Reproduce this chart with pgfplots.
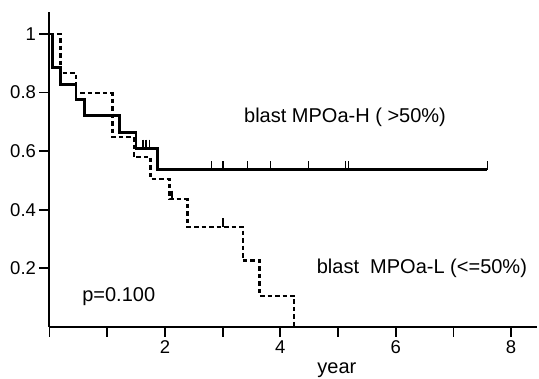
\documentclass[border=0pt]{standalone}
\usepackage{pgfplots}
\pgfplotsset{compat=1.18}
\usepackage{fontspec}
\setmainfont{Liberation Sans}
\begin{document}
\begin{tikzpicture}
\useasboundingbox (-49.5pt,-52pt) rectangle (489.5pt,327pt);
\begin{axis}[
  at={(0,0)}, anchor=south west,
  scale only axis, width=487.6pt, height=315pt,
  xmin=0, xmax=8.45, ymin=0, ymax=1.075,
  axis x line=bottom, axis y line=left,
  axis line style={-, line width=2pt},
  xtick={0,1,2,3,4,5,6,7,8}, xticklabels={,,2,,4,,6,,8},
  ytick={0.2,0.4,0.6,0.8,1}, yticklabels={0.2,0.4,0.6,0.8,1},
  tick align=outside, major tick length=10pt,
  every tick/.style={black, line width=1.8pt},
  tick label style={font=\fontsize{18.5}{20}\selectfont},
  /pgf/number format/assume math mode=true,
  clip=false,
]
% blast MPOa-H (solid)
\addplot[const plot, black, line width=2.8pt] coordinates {
  (0,1) (0.055,0.886) (0.19,0.828) (0.46,0.775) (0.60,0.721)
  (1.21,0.664) (1.50,0.610) (1.87,0.537) (7.59,0.537)
};
\addplot[only marks, black, mark=|, mark size=4.5pt, mark options={line width=1.6pt, yshift=4pt}] coordinates {
  (1.625,0.610) (1.67,0.610) (1.73,0.610)
  (2.81,0.537) (3.01,0.537) (3.43,0.537) (3.83,0.537) (4.49,0.537)
  (5.13,0.537) (5.18,0.537) (7.59,0.537)
};
% blast MPOa-L (dashed)
\addplot[const plot, black, line width=2.3pt, dash pattern=on 4.5pt off 3pt] coordinates {
  (0,1) (0.19,0.866) (0.46,0.798) (1.09,0.648) (1.46,0.58) (1.75,0.504)
  (2.08,0.436) (2.39,0.342) (3.35,0.227) (3.64,0.106) (4.24,0)
};
\addplot[only marks, black, mark=|, mark size=4.5pt, mark options={line width=1.6pt, yshift=4pt}] coordinates {
  (2.12,0.436) (3.01,0.342)
};
\node[anchor=west, inner sep=0, font=\fontsize{20}{22}\selectfont] at (axis cs:3.37,0.717) {blast MPOa-H ( >50\%)};
\node[anchor=west, inner sep=0, font=\fontsize{20}{22}\selectfont] at (axis cs:4.63,0.20) {blast\ \ MPOa-L (<=50\%)};
\node[anchor=west, inner sep=0, font=\fontsize{20}{22}\selectfont] at (axis cs:0.565,0.103) {p=0.100};
\node[anchor=base, inner sep=0, font=\fontsize{20}{22}\selectfont, yshift=-47pt] at (axis cs:4.98,0) {year};
\end{axis}
\end{tikzpicture}
\end{document}
